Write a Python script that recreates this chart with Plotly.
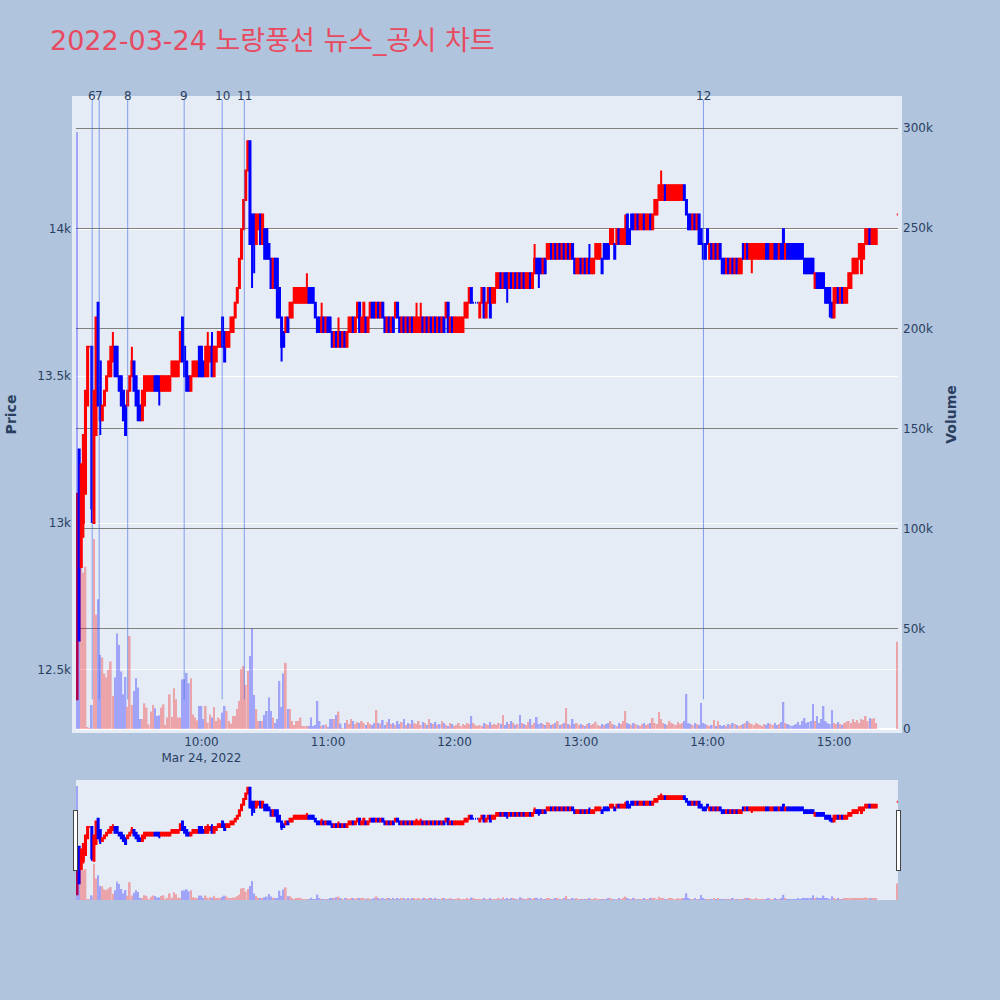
import pandas as pd
import plotly.graph_objects as go

# ---------------- data ----------------
# one-minute candles 09:01 .. 15:20 and the closing auction at 15:30
minute_times = list(pd.date_range("2022-03-24 09:01", "2022-03-24 15:20", freq="1min")) + [pd.Timestamp("2022-03-24 15:30")]

opens = [
    12400,13250,12850,13000,13100,13400,13600,13600,13000,13300,
    13750,13550,13350,13400,13450,13500,13500,13550,13600,13600,
    13500,13500,13450,13400,13400,13450,13500,13550,13500,13450,
    13400,13350,13400,13450,13450,13450,13450,13500,13500,13500,
    13450,13450,13450,13450,13450,13500,13500,13500,13500,13550,
    13700,13600,13550,13500,13450,13500,13500,13500,13600,13600,
    13550,13500,13500,13550,13600,13500,13550,13600,13600,13700,
    13650,13600,13600,13650,13650,13700,13750,13800,13900,14000,
    14100,14200,14300,14050,14050,13950,14000,14050,13950,14000,
    14000,13950,13900,13800,13900,13900,13800,13700,13650,13650,
    13700,13700,13700,13750,13750,13750,13750,13750,13750,13750,
    13800,13800,13800,13750,13700,13700,13650,13700,13650,13700,
    13700,13650,13600,13650,13600,13650,13600,13650,13600,13650,
    13650,13700,13650,13700,13750,13650,13650,13700,13650,13700,
    13750,13750,13700,13750,13700,13750,13700,13650,13700,13650,
    13700,13700,13750,13700,13650,13700,13650,13700,13650,13700,
    13650,13650,13650,13650,13700,13650,13700,13650,13700,13650,
    13700,13650,13700,13650,13700,13700,13750,13650,13700,13650,
    13650,13650,13650,13650,13700,13700,13750,13800,13750,13750,
    13750,13700,13750,13800,13700,13750,13800,13750,13750,13800,
    13800,13850,13800,13850,13850,13800,13850,13800,13850,13800,
    13850,13800,13850,13800,13800,13850,13800,13850,13900,13900,
    13900,13850,13900,13900,13900,13950,13900,13950,13900,13950,
    13900,13950,13900,13950,13900,13950,13900,13850,13850,13900,
    13850,13900,13850,13900,13850,13850,13900,13900,13900,13900,
    13950,13950,13950,13950,13950,13950,13950,14000,13950,13950,
    13950,14050,14000,14050,14050,14000,14050,14000,14000,14050,
    14000,14000,14050,14000,14050,14050,14100,14100,14100,14150,
    14100,14100,14100,14100,14100,14100,14100,14100,14150,14100,
    14050,14050,14000,14050,14000,14050,14000,13950,13950,14000,
    13900,13950,13900,13950,13900,13950,13900,13900,13850,13900,
    13850,13900,13850,13900,13850,13850,13950,13900,13950,13900,
    13900,13900,13900,13900,13900,13900,13900,13950,13950,13900,
    13900,13950,13950,13900,13950,14000,13900,13950,13950,13950,
    13950,13950,13950,13950,13950,13900,13900,13900,13900,13900,
    13800,13850,13850,13850,13850,13800,13800,13800,13750,13700,
    13750,13800,13750,13800,13750,13750,13800,13800,13850,13850,
    13850,13900,13850,13900,13950,13950,14000,13950,13950,13950,
    14050,
]

closes = [
    13100,12600,13200,13300,13450,13600,13600,13050,13450,13700,
    13400,13350,13400,13450,13500,13550,13600,13600,13500,13500,
    13450,13400,13350,13300,13450,13500,13550,13450,13400,13350,
    13350,13450,13500,13500,13500,13500,13500,13450,13450,13450,
    13500,13500,13500,13500,13500,13550,13550,13550,13550,13650,
    13550,13500,13450,13450,13500,13550,13550,13550,13500,13500,
    13500,13600,13600,13600,13500,13600,13600,13650,13650,13600,
    13550,13650,13650,13700,13700,13750,13800,13900,14000,14100,
    14200,14300,13950,13950,13950,14050,14050,13950,14050,13900,
    13900,13900,13800,13900,13800,13700,13700,13600,13600,13700,
    13650,13750,13750,13800,13800,13800,13800,13800,13800,13800,
    13750,13750,13750,13700,13650,13650,13700,13650,13700,13650,
    13650,13600,13650,13600,13650,13600,13650,13600,13650,13700,
    13700,13650,13700,13750,13650,13700,13750,13650,13700,13750,
    13700,13700,13750,13700,13750,13700,13650,13700,13650,13700,
    13650,13750,13700,13650,13700,13650,13700,13650,13700,13650,
    13700,13700,13700,13700,13650,13700,13650,13700,13650,13700,
    13650,13700,13650,13700,13650,13750,13650,13700,13650,13700,
    13700,13700,13700,13700,13750,13750,13800,13750,13750,13750,
    13750,13750,13800,13700,13750,13800,13700,13800,13800,13850,
    13850,13800,13850,13800,13800,13850,13800,13850,13800,13850,
    13800,13850,13800,13850,13850,13800,13850,13900,13850,13850,
    13850,13900,13850,13950,13950,13900,13950,13900,13950,13900,
    13950,13900,13950,13900,13950,13900,13850,13900,13900,13850,
    13900,13850,13900,13850,13900,13900,13950,13950,13950,13850,
    13900,13900,13900,14000,14000,13900,14000,13950,14000,14000,
    14000,13950,13950,14000,14000,14050,14000,14050,14050,14000,
    14050,14050,14000,14050,14100,14100,14150,14150,14150,14100,
    14150,14150,14150,14150,14150,14150,14150,14150,14100,14050,
    14000,14000,14050,14000,14050,13950,13950,13900,13900,13950,
    13950,13900,13950,13900,13950,13900,13850,13850,13900,13850,
    13900,13850,13900,13850,13900,13900,13900,13950,13900,13950,
    13950,13950,13950,13950,13950,13950,13950,13900,13900,13950,
    13950,13900,13900,13950,13900,13900,13950,13900,13900,13900,
    13900,13900,13900,13900,13900,13850,13850,13850,13850,13850,
    13850,13800,13800,13800,13800,13750,13750,13750,13700,13800,
    13800,13750,13800,13750,13800,13800,13850,13850,13900,13900,
    13900,13950,13950,13950,14000,14000,13950,14000,14000,14000,
    14050,
]

# candles whose wick reaches beyond the body (HH:MM -> price)
high_wicks = {"09:18": 13650, "09:27": 13600, "10:03": 13650, "10:05": 13650,
              "10:50": 13850, "10:57": 13750, "11:05": 13700, "11:42": 13750,
              "11:44": 13750, "12:38": 13950, "13:04": 13950, "13:21": 14050,
              "13:38": 14200, "14:36": 14000}
low_wicks = {"09:04": 12950, "09:08": 13000, "09:12": 13300, "09:40": 13400,
             "10:24": 13800, "10:25": 13850, "10:38": 13550, "12:25": 13750,
             "12:40": 13800, "14:21": 13850, "14:58": 13700}

volumes = [
    298000,44000,85000,78000,81000,1000,500,12000,94800,57000,
    64800,37000,35700,27700,25700,29500,33700,16500,25700,47700,
    42000,28700,17300,26000,11000,46500,12000,19000,25300,20700,
    5000,5000,12800,10700,2300,8700,12000,10300,6500,6800,
    10700,12300,2000,5700,17300,6000,20300,14800,5700,5700,
    24800,24800,28000,22800,25300,7300,5700,4300,11500,11500,
    5000,11500,3200,7300,5700,11000,4000,5700,4800,8200,
    11500,9000,4000,2800,6500,6500,10000,14000,30000,31500,
    22000,29000,36500,50000,17000,10000,4000,4000,4000,7000,
    9000,15700,9000,5700,3000,5000,24000,11000,27700,33000,
    10000,10000,4000,2000,4000,4000,5700,1500,1500,1500,
    1500,5700,1500,2000,14000,4000,1500,2000,2300,700,
    5000,5000,5000,7000,8700,2700,300,3000,4500,2500,
    5000,4000,2500,3500,3000,4000,3000,2000,3500,2500,
    2000,3000,9500,3000,2500,4500,2000,3500,5000,2500,
    3000,2000,4000,2500,3500,5000,2000,3000,2500,4500,
    3000,2500,4000,2000,3500,3000,2000,5000,3000,2500,
    3500,2000,2500,4000,3000,2000,1500,3000,2500,1500,
    2000,3000,1500,2500,2000,3000,2500,6500,3000,2000,
    1500,2000,1500,3000,2500,2000,3500,2000,2500,2000,
    3000,2500,7000,2000,3500,2500,4000,3000,2000,2500,
    7000,3000,2500,2000,3500,5000,2000,3000,6000,2500,
    3000,2500,2000,3500,3000,2000,2500,3000,4000,2000,
    2500,3000,10500,2500,2000,5000,2500,3000,2000,2500,
    2000,1500,2500,3000,2000,2500,3500,2000,1500,2500,
    2000,2500,3000,4000,2500,2000,1500,3000,2500,4000,
    9000,3000,2500,2000,3000,2500,2000,1500,2500,3000,
    2000,2500,3000,5500,3000,2500,8500,5000,3000,2500,
    2000,4000,3000,2500,2000,3500,2500,3000,4000,17500,
    3000,2500,2000,3000,2500,2000,13000,3000,2500,2000,
    1500,2000,4500,1500,4000,2000,1500,2000,1500,2500,
    2000,3000,2500,2000,1500,2000,2500,3000,4000,3000,
    2500,2000,3000,2500,2000,1500,2500,2000,3000,2500,
    2000,3000,2000,2500,3500,13500,3000,2500,2000,1500,
    2000,2500,3500,2000,4000,5500,3000,3500,4000,12500,
    4000,6500,3000,5000,11500,4000,3000,2500,9500,3000,
    2500,3500,2500,2000,3000,3500,4000,3000,5000,3500,
    4500,3000,5000,4500,6500,4000,5500,5000,5500,3000,
    43500,
]

# news / disclosure markers
news_times = ["2022-03-24 09:08:11", "2022-03-24 09:11:31", "2022-03-24 09:25:01",
              "2022-03-24 09:51:48", "2022-03-24 10:09:49", "2022-03-24 10:20:19",
              "2022-03-24 13:58:04"]
news_labels = ["6", "7", "8", "9", "10", "11", "12"]

title_text = "2022-03-24 노랑풍선 뉴스_공시 차트"

# ---------------- build ----------------
labels = [t.strftime("%H:%M") for t in minute_times]
highs = [max(o, c, high_wicks.get(k, 0)) for o, c, k in zip(opens, closes, labels)]
lows = [min(o, c, low_wicks.get(k, 10 ** 9)) for o, c, k in zip(opens, closes, labels)]
# volume colour: up versus the previous minute's close (first minute has none -> blue)
vol_colors = ["blue"] + ["red" if closes[i] > closes[i - 1] or (closes[i] == closes[i - 1] and closes[i] >= opens[i]) else "blue"
                         for i in range(1, len(closes))]

x_range = ["2022-03-24 09:00:30", "2022-03-24 15:30:20"]
price_range = [12299, 14440]
vol_range = [0, 314000]

FONT = "DejaVu Sans, Noto Sans CJK KR, sans-serif"

fig = go.Figure()
fig.add_trace(go.Candlestick(
    x=minute_times, open=opens, high=highs, low=lows, close=closes,
    increasing=dict(line=dict(color="red"), fillcolor="red"),
    decreasing=dict(line=dict(color="blue"), fillcolor="blue"),
    name="Price", yaxis="y",
))
fig.add_trace(go.Bar(
    x=minute_times, y=volumes, marker=dict(color=vol_colors, line=dict(width=0)),
    opacity=0.3, name="Volume", yaxis="y2",
))

shapes = []
annotations = []
for t, lab in zip(news_times, news_labels):
    shapes.append(dict(type="line", xref="x", yref="y", x0=t, x1=t,
                       y0=min(lows), y1=price_range[1],
                       line=dict(color="rgba(65,105,225,0.6)", width=1)))
    annotations.append(dict(x=t, xref="x", y=1.0064, yref="paper", text=lab,
                            showarrow=False, yanchor="middle",
                            font=dict(size=12, color="#2a3f5f")))

fig.update_layout(
    width=1000, height=1000,
    paper_bgcolor="lightsteelblue",
    plot_bgcolor="#E5ECF6",
    margin=dict(l=76, r=102, t=100, b=100, pad=4),
    showlegend=False,
    title=dict(text=title_text, x=0.05, xanchor="left", y=0.959, yanchor="middle",
               font=dict(size=27, color="#E84A5F", family=FONT)),
    font=dict(family=FONT, color="#2a3f5f"),
    xaxis=dict(type="date", range=x_range,
               rangeslider=dict(visible=True, bgcolor="#E5ECF6", range=x_range)),
    yaxis=dict(title=dict(text="<b>Price</b>", font=dict(size=14), standoff=21),
               automargin=False, range=price_range, side="left"),
    yaxis2=dict(title=dict(text="<b>Volume</b>", font=dict(size=14), standoff=18),
                automargin=False, range=vol_range, side="right", overlaying="y",
                gridcolor="gray", showgrid=True),
    shapes=shapes,
    annotations=annotations,
)

fig.write_html("out.html", config={"displayModeBar": False},
               post_script="document.body.style.margin='0';")
